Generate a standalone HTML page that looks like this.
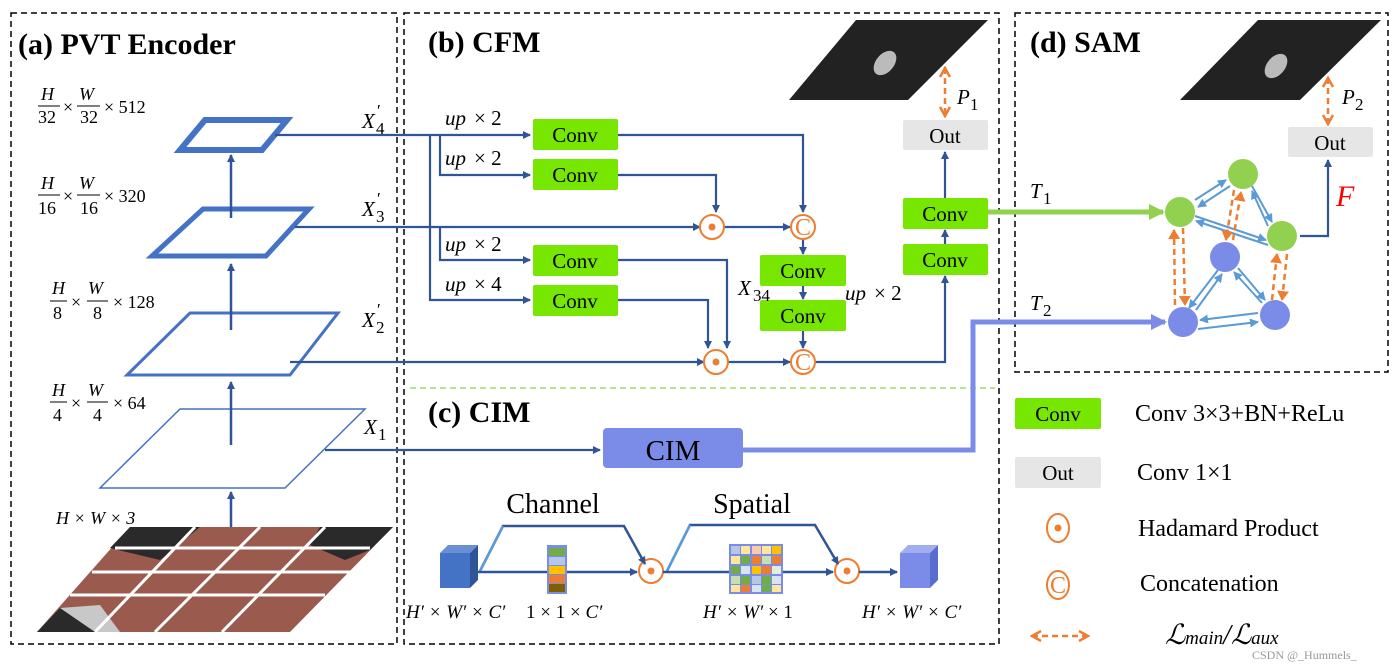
<!DOCTYPE html>
<html><head><meta charset="utf-8"><style>
html,body{margin:0;padding:0;background:#fff;}
svg{display:block;}
text{font-family:"Liberation Serif",serif;}
.t{font-weight:bold;font-size:30px;}
.m{font-style:italic;font-size:21px;}
.n{font-size:17px;}
.cv{font-size:21px;}
.f{font-size:18px;}
</style></head><body>
<svg width="1400" height="668" viewBox="0 0 1400 668" xmlns="http://www.w3.org/2000/svg">
<defs>
<marker id="a" markerWidth="8" markerHeight="8" refX="7" refY="4" orient="auto" markerUnits="userSpaceOnUse"><path d="M0,0 L8,4 L0,8z" fill="#2f5597"/></marker>
<marker id="al" markerWidth="9" markerHeight="9" refX="8" refY="4.5" orient="auto" markerUnits="userSpaceOnUse"><path d="M0,0 L9,4.5 L0,9z" fill="#5b9bd5"/></marker>
<marker id="ao" markerWidth="12" markerHeight="12" refX="10" refY="6" orient="auto-start-reverse" markerUnits="userSpaceOnUse"><path d="M1,1 L10,6 L1,11" fill="none" stroke="#ed7d31" stroke-width="2.5"/></marker>
<marker id="ao2" markerWidth="10" markerHeight="12" refX="9" refY="6" orient="auto" markerUnits="userSpaceOnUse"><path d="M0,0 L10,6 L0,12z" fill="#ed7d31"/></marker>
<marker id="ag" markerWidth="16" markerHeight="16" refX="14" refY="8" orient="auto" markerUnits="userSpaceOnUse"><path d="M0,0 L16,8 L0,16z" fill="#92d050"/></marker>
<marker id="ap" markerWidth="16" markerHeight="16" refX="14" refY="8" orient="auto" markerUnits="userSpaceOnUse"><path d="M0,0 L16,8 L0,16z" fill="#7b8ce8"/></marker>
</defs>
<g fill="none" stroke="#000" stroke-width="1.5" stroke-dasharray="6,4">
<rect x="11" y="13" width="386" height="631"/>
<rect x="404" y="13" width="595" height="631"/>
<rect x="1015" y="13" width="373" height="359"/>
</g>
<line x1="410" y1="388" x2="995" y2="388" stroke="#92d050" stroke-width="1.2" stroke-dasharray="6,4"/>
<text x="18" y="54" class="t">(a) PVT Encoder</text>
<text x="428" y="52" class="t">(b) CFM</text>
<text x="428" y="422" class="t">(c) CIM</text>
<text x="1030" y="52" class="t">(d) SAM</text>

<g fill="none" stroke="#4472c4">
<polygon points="205,120 287,120 262,150 180,150" stroke-width="6"/>
<polygon points="203,209 309,209 266,256 152,256" stroke-width="5"/>
<polygon points="190,313 338,313 290,375 127,375" stroke-width="3"/>
<polygon points="180,409 365,409 285,488 100,488" stroke-width="1.5"/>
</g>
<g stroke="#2f5597" stroke-width="2.5" marker-end="url(#a)">
<line x1="231" y1="218" x2="231" y2="155"/>
<line x1="231" y1="330" x2="231" y2="264"/>
<line x1="231" y1="445" x2="231" y2="382"/>
<line x1="231" y1="543" x2="231" y2="492"/>
</g>
<polygon points="130,527 393,527 290,632 37,632" fill="#9a5a4e"/>
<polygon points="130,527 200,527 160,560 110,548" fill="#2a2a2a"/>
<polygon points="393,527 320,527 310,545 345,560 370,550" fill="#2a2a2a"/>
<polygon points="37,632 95,632 80,610 60,608" fill="#2a2a2a"/>
<polygon points="60,608 95,632 120,632 100,605" fill="#c8c8c8"/>
<g stroke="#fff" stroke-width="3">
<line x1="115" y1="548" x2="370" y2="548"/>
<line x1="92" y1="572" x2="350" y2="572"/>
<line x1="70" y1="595" x2="325" y2="595"/>
<line x1="195" y1="527" x2="95" y2="632"/>
<line x1="260" y1="527" x2="155" y2="632"/>
<line x1="325" y1="527" x2="222" y2="632"/>
</g>
<g class="f">
<text x="41" y="100" font-style="italic">H</text><text x="38" y="123">32</text>
<line x1="38" y1="106" x2="60" y2="106" stroke="#000"/>
<text x="63" y="113">×</text>
<text x="79" y="100" font-style="italic">W</text><text x="80" y="123">32</text>
<line x1="77" y1="106" x2="100" y2="106" stroke="#000"/>
<text x="104" y="113">× 512</text>

<text x="41" y="189" font-style="italic">H</text><text x="38" y="214">16</text>
<line x1="38" y1="195" x2="60" y2="195" stroke="#000"/>
<text x="63" y="202">×</text>
<text x="79" y="189" font-style="italic">W</text><text x="80" y="214">16</text>
<line x1="77" y1="195" x2="100" y2="195" stroke="#000"/>
<text x="104" y="202">× 320</text>

<text x="52" y="294" font-style="italic">H</text><text x="53" y="319">8</text>
<line x1="50" y1="301" x2="67" y2="301" stroke="#000"/>
<text x="71" y="308">×</text>
<text x="88" y="294" font-style="italic">W</text><text x="93" y="319">8</text>
<line x1="87" y1="301" x2="108" y2="301" stroke="#000"/>
<text x="113" y="308">× 128</text>

<text x="52" y="396" font-style="italic">H</text><text x="53" y="421">4</text>
<line x1="50" y1="402" x2="67" y2="402" stroke="#000"/>
<text x="71" y="409">×</text>
<text x="88" y="396" font-style="italic">W</text><text x="93" y="421">4</text>
<line x1="87" y1="402" x2="108" y2="402" stroke="#000"/>
<text x="113" y="409">× 64</text>
<text x="56" y="524" font-style="italic">H × W × 3</text>
</g>
<text x="362" y="128" class="m">X</text><text x="377" y="116" class="n">′</text><text x="376" y="134" class="n">4</text>
<text x="362" y="216" class="m">X</text><text x="377" y="204" class="n">′</text><text x="376" y="222" class="n">3</text>
<text x="362" y="327" class="m">X</text><text x="377" y="315" class="n">′</text><text x="376" y="333" class="n">2</text>
<text x="364" y="434" class="m">X</text><text x="378" y="440" class="n">1</text>

<g stroke="#2f5597" stroke-width="2.2" fill="none">
<path d="M275,135 H530" marker-end="url(#a)"/>
<path d="M440,135 V175 H530" marker-end="url(#a)"/>
<path d="M430,135 V300 H530" marker-end="url(#a)"/>
<path d="M440,227 V260 H530" marker-end="url(#a)"/>
<path d="M295,227 H700" marker-end="url(#a)"/>
<path d="M290,362 H704" marker-end="url(#a)"/>
<path d="M325,450 H600" marker-end="url(#a)"/>
<path d="M618,135 H803 V212" marker-end="url(#a)"/>
<path d="M618,175 H716 V212" marker-end="url(#a)"/>
<path d="M724,227 H790" marker-end="url(#a)"/>
<path d="M803,240 V254" marker-end="url(#a)"/>
<path d="M803,285 V299" marker-end="url(#a)"/>
<path d="M803,330 V348" marker-end="url(#a)"/>
<path d="M618,260 H727 V348" marker-end="url(#a)"/>
<path d="M618,300 H708 V348" marker-end="url(#a)"/>
<path d="M728,362 H790" marker-end="url(#a)"/>
<path d="M816,362 H945 V276" marker-end="url(#a)"/>
<path d="M945,244 V230" marker-end="url(#a)"/>
<path d="M945,198 V152" marker-end="url(#a)"/>
<path d="M1300,236 H1328 V160" marker-end="url(#a)"/>
</g>
<g fill="#77e600">
<rect x="533" y="119" width="85" height="31" rx="2"/>
<rect x="533" y="159" width="85" height="31" rx="2"/>
<rect x="533" y="245" width="85" height="31" rx="2"/>
<rect x="533" y="285" width="85" height="31" rx="2"/>
<rect x="760" y="255" width="86" height="31" rx="2"/>
<rect x="760" y="300" width="86" height="31" rx="2"/>
<rect x="903" y="198" width="85" height="31" rx="2"/>
<rect x="903" y="244" width="85" height="31" rx="2"/>
<rect x="1015" y="398" width="86" height="31" rx="2"/>
</g>
<g class="cv" text-anchor="middle">
<text x="575" y="142">Conv</text><text x="575" y="182">Conv</text>
<text x="575" y="268">Conv</text><text x="575" y="308">Conv</text>
<text x="803" y="278">Conv</text><text x="803" y="323">Conv</text>
<text x="945" y="221">Conv</text><text x="945" y="267">Conv</text>
<text x="1058" y="421">Conv</text>
</g>
<g fill="#e7e6e6">
<rect x="903" y="120" width="85" height="30" rx="2"/>
<rect x="1288" y="127" width="85" height="30" rx="2"/>
<rect x="1015" y="457" width="86" height="31" rx="2"/>
</g>
<g class="cv" text-anchor="middle">
<text x="945" y="143">Out</text><text x="1330" y="150">Out</text><text x="1058" y="480">Out</text>
</g>
<g class="m">
<text x="445" y="125">up</text><text x="474" y="125" font-style="normal">× 2</text>
<text x="445" y="165">up</text><text x="474" y="165" font-style="normal">× 2</text>
<text x="445" y="251">up</text><text x="474" y="251" font-style="normal">× 2</text>
<text x="445" y="291">up</text><text x="474" y="291" font-style="normal">× 4</text>
<text x="845" y="300">up</text><text x="874" y="300" font-style="normal">× 2</text>
<text x="738" y="295">X</text><text x="753" y="301" class="n" font-style="normal">34</text>
</g>
<g fill="#fff" stroke="#ed7d31" stroke-width="2">
<circle cx="712" cy="227" r="12"/><circle cx="716" cy="362" r="12"/>
<circle cx="803" cy="227" r="12"/><circle cx="803" cy="362" r="12"/>
<circle cx="651" cy="571" r="12"/><circle cx="847" cy="571" r="12"/>
<ellipse cx="1058" cy="528" rx="11" ry="14"/><ellipse cx="1058" cy="585" rx="11" ry="14"/>
</g>
<g fill="#ed7d31">
<circle cx="712" cy="227" r="3.5"/><circle cx="716" cy="362" r="3.5"/>
<circle cx="651" cy="571" r="3.5"/><circle cx="847" cy="571" r="3.5"/><circle cx="1058" cy="528" r="3.5"/>
</g>
<g fill="#ed7d31" font-size="24" text-anchor="middle">
<text x="803" y="235">C</text><text x="803" y="370">C</text><text x="1058" y="593">C</text>
</g>
<polygon points="856,20 988,20 908,100 789,100" fill="#222"/>
<ellipse cx="885" cy="63" rx="9" ry="14" transform="rotate(40 885 63)" fill="#bbb"/>
<polygon points="1258,20 1381,20 1300,100 1180,100" fill="#222"/>
<ellipse cx="1276" cy="66" rx="9" ry="14" transform="rotate(40 1276 66)" fill="#bbb"/>
<g stroke="#ed7d31" stroke-width="2.5" stroke-dasharray="6,4" fill="none">
<line x1="945" y1="68" x2="945" y2="116" marker-start="url(#ao)" marker-end="url(#ao)"/>
<line x1="1328" y1="78" x2="1328" y2="124" marker-start="url(#ao)" marker-end="url(#ao)"/>
<line x1="1032" y1="636" x2="1088" y2="636" marker-start="url(#ao)" marker-end="url(#ao)"/>
</g>
<text x="957" y="104" class="m">P</text><text x="970" y="110" class="n">1</text>
<text x="1342" y="104" class="m">P</text><text x="1355" y="110" class="n">2</text>
<path d="M988,212 H1163" stroke="#92d050" stroke-width="5" fill="none" marker-end="url(#ag)"/>
<path d="M743,450 H973 V322 H1165" stroke="#7b8ce8" stroke-width="5" fill="none" marker-end="url(#ap)"/>
<text x="1030" y="198" class="m">T</text><text x="1043" y="204" class="n">1</text>
<text x="1030" y="310" class="m">T</text><text x="1043" y="316" class="n">2</text>
<text x="1336" y="206" fill="#ff0000" font-style="italic" font-size="30">F</text>
<g stroke="#5b9bd5" stroke-width="2" marker-end="url(#al)">
<line x1="1195" y1="200" x2="1226" y2="180"/>
<line x1="1230" y1="186" x2="1198" y2="207"/>
<line x1="1252" y1="186" x2="1272" y2="222"/>
<line x1="1268" y1="226" x2="1252" y2="191"/>
<line x1="1195" y1="216" x2="1266" y2="240"/>
<line x1="1268" y1="245" x2="1196" y2="221"/>
<line x1="1218" y1="270" x2="1189" y2="308"/>
<line x1="1196" y1="310" x2="1222" y2="274"/>
<line x1="1238" y1="268" x2="1265" y2="300"/>
<line x1="1262" y1="303" x2="1234" y2="272"/>
<line x1="1258" y1="313" x2="1200" y2="320"/>
<line x1="1198" y1="329" x2="1258" y2="322"/>
</g>
<g stroke="#ed7d31" stroke-width="2.5" stroke-dasharray="6,4" marker-end="url(#ao2)">
<line x1="1175" y1="305" x2="1174" y2="230"/>
<line x1="1183" y1="228" x2="1185" y2="305"/>
<line x1="1234" y1="190" x2="1226" y2="240"/>
<line x1="1233" y1="240" x2="1241" y2="192"/>
<line x1="1272" y1="300" x2="1277" y2="254"/>
<line x1="1287" y1="254" x2="1282" y2="300"/>
</g>
<g fill="#92d050"><circle cx="1243" cy="174" r="15"/><circle cx="1180" cy="212" r="15"/><circle cx="1282" cy="236" r="15"/></g>
<g fill="#7b8ce8"><circle cx="1225" cy="257" r="15"/><circle cx="1183" cy="322" r="15"/><circle cx="1275" cy="315" r="15"/></g>
<rect x="603" y="428" width="140" height="40" rx="4" fill="#7b8ce8"/>
<text x="673" y="460" text-anchor="middle" font-size="29">CIM</text>
<text x="553" y="513" text-anchor="middle" font-size="28">Channel</text>
<text x="752" y="513" text-anchor="middle" font-size="28">Spatial</text>
<g fill="none" stroke-width="2.5">
<path d="M480,571 L503,526 L624,526 L645,564" stroke="#2f5597" marker-end="url(#a)"/>
<path d="M480,571 L503,526" stroke="#5b9bd5"/>
<path d="M667,571 L690,525 L815,525 L838,564" stroke="#2f5597" marker-end="url(#a)"/>
<path d="M667,571 L690,525" stroke="#5b9bd5"/>
<path d="M478,572 H637" stroke="#2f5597" marker-end="url(#a)"/>
<path d="M663,572 H833" stroke="#2f5597" marker-end="url(#a)"/>
<path d="M859,572 H897" stroke="#2f5597" marker-end="url(#a)"/>
</g>
<polygon points="440,553 448,545 478,545 470,553" fill="#6b8fd6"/>
<polygon points="470,553 478,545 478,580 470,588" fill="#2f5597"/>
<rect x="440" y="553" width="30" height="35" fill="#4472c4"/>
<polygon points="900,553 908,545 938,545 930,553" fill="#a0aef0"/>
<polygon points="930,553 938,545 938,580 930,588" fill="#5b6cd0"/>
<rect x="900" y="553" width="30" height="35" fill="#7b8ce8"/>
<rect x="547" y="545" width="20" height="49" fill="#7b8ce8"/>
<rect x="549" y="548" width="16" height="8" fill="#70ad47"/>
<rect x="549" y="557" width="16" height="8" fill="#b4c7e7"/>
<rect x="549" y="566" width="16" height="8" fill="#ffc000"/>
<rect x="549" y="575" width="16" height="8" fill="#ed7d31"/>
<rect x="549" y="584" width="16" height="8" fill="#7f6000"/>
<rect x="729" y="544" width="54" height="50" fill="#7b8ce8"/>
<g>
<rect x="731" y="546" width="9" height="8" fill="#b4c7e7"/><rect x="741" y="546" width="9" height="8" fill="#ffe699"/><rect x="752" y="546" width="9" height="8" fill="#f8cbad"/><rect x="762" y="546" width="9" height="8" fill="#ffe699"/><rect x="772" y="546" width="9" height="8" fill="#ffc000"/>
<rect x="731" y="556" width="9" height="8" fill="#ffe699"/><rect x="741" y="556" width="9" height="8" fill="#70ad47"/><rect x="752" y="556" width="9" height="8" fill="#ed7d31"/><rect x="762" y="556" width="9" height="8" fill="#c5e0b4"/><rect x="772" y="556" width="9" height="8" fill="#ed7d31"/>
<rect x="731" y="566" width="9" height="8" fill="#70ad47"/><rect x="741" y="566" width="9" height="8" fill="#dae3f3"/><rect x="752" y="566" width="9" height="8" fill="#ffc000"/><rect x="762" y="566" width="9" height="8" fill="#ed7d31"/><rect x="772" y="566" width="9" height="8" fill="#e2f0d9"/>
<rect x="731" y="576" width="9" height="8" fill="#c5e0b4"/><rect x="741" y="576" width="9" height="8" fill="#70ad47"/><rect x="752" y="576" width="9" height="8" fill="#b4c7e7"/><rect x="762" y="576" width="9" height="8" fill="#70ad47"/><rect x="772" y="576" width="9" height="8" fill="#dae3f3"/>
<rect x="731" y="585" width="9" height="7" fill="#ffe699"/><rect x="741" y="585" width="9" height="7" fill="#ed7d31"/><rect x="752" y="585" width="9" height="7" fill="#dae3f3"/><rect x="762" y="585" width="9" height="7" fill="#70ad47"/><rect x="772" y="585" width="9" height="7" fill="#ffe699"/>
</g>
<g font-size="19" font-style="italic">
<text x="406" y="618">H′ × W′ × C′</text>
<text x="526" y="618"><tspan font-style="normal">1 × 1 ×</tspan> C′</text>
<text x="703" y="618">H′ × W′ <tspan font-style="normal">× 1</tspan></text>
<text x="862" y="618">H′ × W′ × C′</text>
</g>
<g font-size="24">
<text x="1135" y="421">Conv 3×3+BN+ReLu</text>
<text x="1137" y="480">Conv 1×1</text>
<text x="1138" y="536">Hadamard Product</text>
<text x="1140" y="591">Concatenation</text>
</g>
<text x="1165" y="644" font-size="28" font-style="italic">ℒ<tspan font-size="19">main</tspan>/ℒ<tspan font-size="19">aux</tspan></text>
<text x="1252" y="659" font-size="12" fill="#999" font-family="Liberation Sans,sans-serif">CSDN @_Hummels_</text>
</svg>
</body></html>
